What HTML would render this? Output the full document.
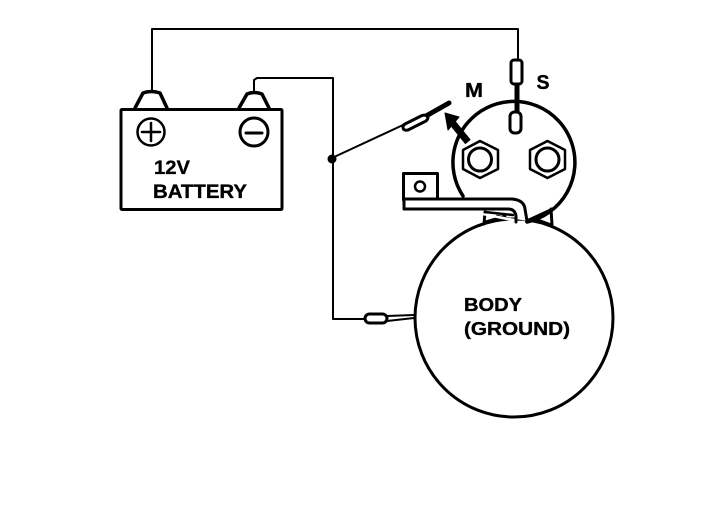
<!DOCTYPE html>
<html><head><meta charset="utf-8"><style>
html,body{margin:0;padding:0;background:#fff;width:704px;height:510px;overflow:hidden}
svg{display:block}
text{font-family:"Liberation Sans",sans-serif;font-weight:bold;fill:#000;stroke:#000;stroke-width:.35px}
</style></head><body>
<svg width="704" height="510" viewBox="0 0 704 510" fill="none" stroke="#000" stroke-linecap="round" stroke-linejoin="round">
<!-- wires -->
<path d="M152 93V29H518V60" stroke-width="2"/>
<path d="M254 93V80L257 78H333V319H365" stroke-width="2"/>
<path d="M332 158L403 125" stroke-width="2"/>
<circle cx="332" cy="159" r="4.500" fill="#000" stroke="none"/>
<!-- battery -->
<rect x="121" y="109.500" width="161" height="100" rx="1" stroke-width="3"/>
<path d="M135 108L143 93Q151 90 160 93L167 108" stroke-width="3.500" fill="#fff"/>
<path d="M239 108L247 94Q254 91 262 94L269 108" stroke-width="3.500" fill="#fff"/>
<circle cx="151" cy="132" r="13.500" stroke-width="2.500"/>
<path d="M142 132H160M151 123V141" stroke-width="2.500"/>
<circle cx="254" cy="132" r="14" stroke-width="3"/>
<path d="M246 133H262" stroke-width="3"/>
<!-- body -->
<circle cx="514" cy="318" r="99" stroke-width="3" fill="#fff"/>
<!-- supports -->
<path d="M485 212L484 224M551 209L552 225" stroke-width="3"/>
<path d="M485 212L513 215M485 222L505 216M497 216L515 220M526 221L550 210M533 218L552 225" stroke-width="2.500"/>
<!-- solenoid -->
<path d="M463 196A61 61 0 1 1 527 222" stroke-width="3.500"/>
<!-- bracket -->
<path d="M403.500 200V173.500H437.500V199" stroke-width="3" fill="#fff"/>
<circle cx="420" cy="186.500" r="5" stroke-width="2.500"/>
<path d="M405 199H512Q524 200 525 209L527 221M516 222V216Q515 209 508 209H404V199" stroke-width="3" fill="#fff"/>
<!-- nuts -->
<path d="M480 141L498 150V169L480 178L463 169V150Z" stroke-width="2.500" fill="#fff"/>
<circle cx="480" cy="159.500" r="11.500" stroke-width="3"/>
<path d="M547.500 141L565 150V169L547.500 178L530 169V150Z" stroke-width="2.500" fill="#fff"/>
<circle cx="547.500" cy="159.500" r="11.500" stroke-width="3"/>
<!-- S connector -->
<path d="M517 83V112" stroke-width="5"/>
<rect x="511" y="60" width="11" height="24" rx="3" stroke-width="3" fill="#fff"/>
<rect x="510" y="112" width="11" height="21" rx="4.500" stroke-width="3" fill="#fff"/>
<!-- M connector -->
<path d="M426 116L449 103" stroke-width="5"/>
<path d="M405 124L422 115.500Q427 114 428 118Q427 121 424 122L408 130Q403 131 403 127Q403 125 405 124Z" stroke-width="3" fill="#fff"/>
<path d="M468 142L451 121" stroke-width="7" stroke-linecap="butt"/>
<path d="M445 113L459 117L448 130Z" fill="#000" stroke="#000" stroke-width="1"/>
<!-- ground connector -->
<rect x="365" y="314" width="22" height="9" rx="4.500" stroke-width="3" fill="#fff"/>
<path d="M387 316L414 315M387 321L414 318" stroke-width="2"/>
<!-- labels -->
<g>
<text x="154" y="174" font-size="19.500" textLength="36" lengthAdjust="spacingAndGlyphs">12V</text>
<text x="153" y="198" font-size="19.500" textLength="94" lengthAdjust="spacingAndGlyphs">BATTERY</text>
<text x="465" y="97" font-size="20" textLength="18" lengthAdjust="spacingAndGlyphs">M</text>
<text x="536.500" y="89" font-size="20" textLength="13" lengthAdjust="spacingAndGlyphs">S</text>
<text x="464" y="311" font-size="18.500" textLength="58" lengthAdjust="spacingAndGlyphs">BODY</text>
<text x="464" y="335" font-size="18.500" textLength="106" lengthAdjust="spacingAndGlyphs">(GROUND)</text>
</g>
</svg>
</body></html>
